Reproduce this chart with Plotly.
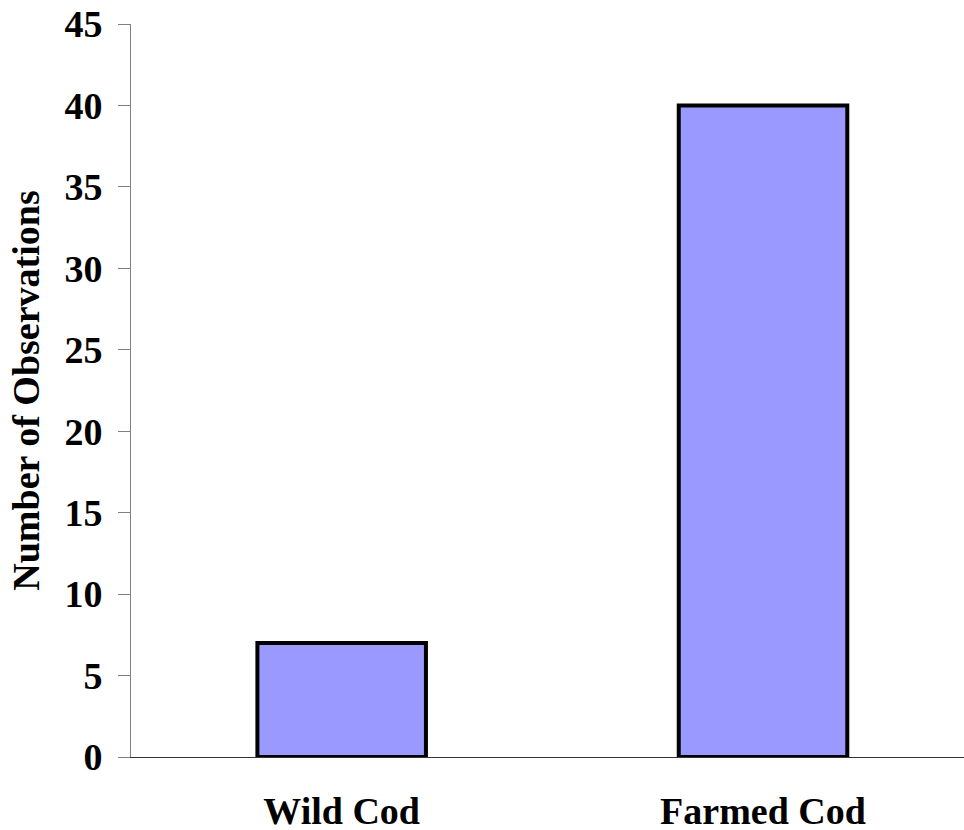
import plotly.graph_objects as go

categories = ["Wild Cod", "Farmed Cod"]
values = [7, 40]
y_ticks = [0, 5, 10, 15, 20, 25, 30, 35, 40, 45]

FONT = "Liberation Serif"

fig = go.Figure()
fig.add_trace(go.Bar(
    x=categories,
    y=values,
    width=0.4,
    marker=dict(color="#9999FF", line=dict(color="black", width=4)),
))

fig.update_layout(
    width=964,
    height=830,
    margin=dict(l=131, r=0, t=24, b=73),
    paper_bgcolor="white",
    plot_bgcolor="white",
    showlegend=False,
    font=dict(family=FONT, size=38, color="black"),
    xaxis=dict(
        type="category",
        range=[-0.5, 1.477],
        automargin=False,
        showline=True,
        linecolor="#333333",
        linewidth=1,
        ticks="",
        showgrid=False,
        zeroline=False,
        tickfont=dict(family=FONT, size=38, color="black", weight="bold"),
        ticklabelstandoff=20,
    ),
    yaxis=dict(
        range=[0, 45],
        automargin=False,
        tickvals=y_ticks,
        showline=True,
        linecolor="#808080",
        linewidth=1,
        ticks="outside",
        ticklen=12,
        tickcolor="#808080",
        showgrid=False,
        zeroline=False,
        tickfont=dict(family=FONT, size=38, color="black", weight="bold"),
        ticklabelstandoff=8,
        title=dict(
            text="Number of Observations",
            font=dict(family=FONT, size=38, color="black", weight="bold"),
            standoff=13,
        ),
    ),
)

fig.write_html(
    "out.html",
    config={"displayModeBar": False},
    post_script="document.body.style.margin='0';document.body.style.overflow='hidden';",
)
